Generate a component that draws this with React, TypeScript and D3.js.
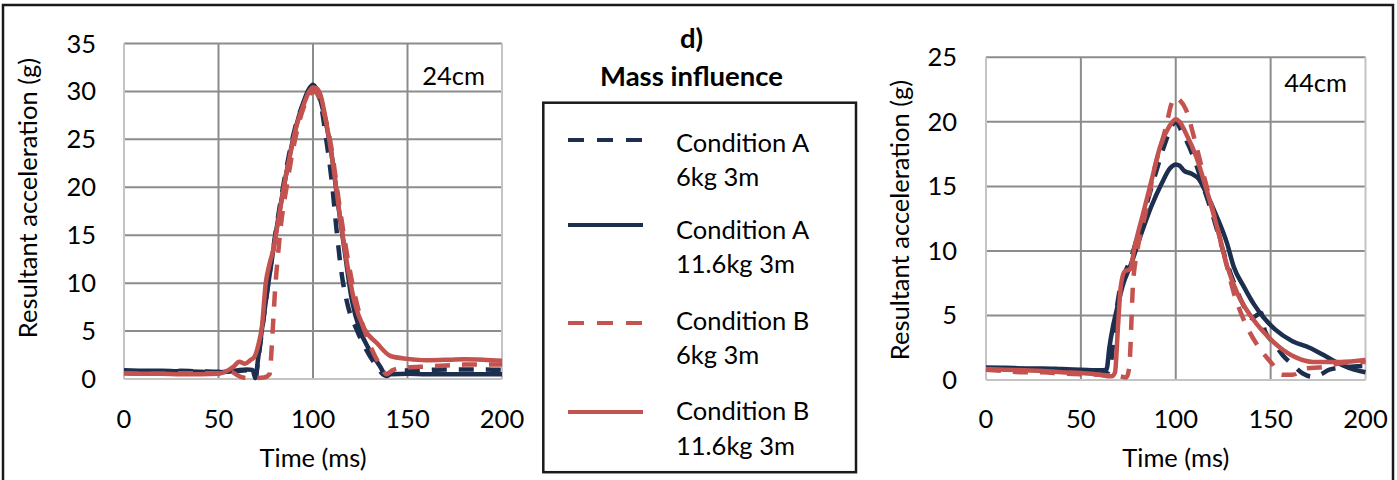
import React from "react";
import * as d3 from "d3";

// ---------- DATA ----------
const xTicks = [0, 50, 100, 150, 200];
const yTicks24 = [0, 5, 10, 15, 20, 25, 30, 35];
const yTicks44 = [0, 5, 10, 15, 20, 25];

const seriesNames = ["Condition A\n6kg 3m", "Condition A\n11.6kg 3m", "Condition B\n6kg 3m", "Condition B\n11.6kg 3m"];

// 24cm panel
const t24_A6 = [0, 10, 20, 30, 40, 50, 55, 60, 65, 68, 69.5, 71, 73, 76, 80, 85, 90, 95, 98, 100, 102, 104, 107, 110, 112.5, 115, 118.5, 123, 128, 133.5, 138, 142, 150, 160, 170, 180, 190, 200];
const v24_A6 = [0.85, 0.8, 0.8, 0.85, 0.8, 0.75, 0.8, 0.85, 0.9, 0.8, 0.1, 2.0, 5.0, 9.5, 15, 21, 25.8, 28.8, 30.0, 30.3, 30.0, 28.8, 25, 20.5, 15.5, 11.2, 7.6, 5.2, 3.1, 1.4, 0.4, 0.8, 0.9, 0.95, 1.0, 1.0, 1.0, 0.95];

const t24_A11 = [0, 10, 20, 30, 40, 50, 55, 60, 65, 68, 69.5, 71, 73, 76, 80, 85, 90, 95, 98, 100, 102, 105, 110, 113, 117, 120.5, 125, 130, 135.5, 139, 141, 150, 160, 170, 180, 190, 200];
const v24_A11 = [0.9, 0.85, 0.85, 0.8, 0.75, 0.7, 0.75, 0.9, 1.0, 0.95, 0.1, 2.2, 5.2, 9.5, 14.8, 20.5, 25.5, 28.9, 30.3, 30.7, 30.2, 28.3, 23.2, 18.6, 13.0, 8.3, 5.0, 3.0, 1.3, 0.3, 0.5, 0.55, 0.5, 0.5, 0.5, 0.5, 0.5];

const t24_B6 = [0, 10, 20, 30, 40, 50, 56, 60, 63, 66, 70, 74, 77, 78.5, 80, 81.5, 83, 86, 90, 95, 98, 100, 102, 105, 110, 113, 117, 121, 125, 130, 135, 139, 142, 145, 150, 160, 170, 180, 190, 200];
const v24_B6 = [0.6, 0.55, 0.55, 0.6, 0.6, 0.6, 0.8, 0.4, 0.15, 0.1, 0.1, 0.15, 0.5, 4.5, 9.5, 13, 16, 20, 24.5, 28.3, 29.6, 30.0, 29.8, 28.3, 23.8, 19.5, 14.2, 9.8, 6.5, 3.6, 1.6, 0.5, 0.9, 1.1, 1.2, 1.3, 1.4, 1.5, 1.5, 1.5];

const t24_B11 = [0, 10, 20, 30, 40, 50, 55, 58, 61, 64, 67, 69, 71, 73, 75, 77, 79, 82, 85, 88, 91, 95, 98, 100, 102, 104, 107, 111, 114.5, 118, 122, 127, 134, 141, 150, 160, 170, 180, 190, 200];
const v24_B11 = [0.6, 0.55, 0.55, 0.5, 0.5, 0.55, 0.9, 1.3, 1.8, 1.6, 2.0, 2.3, 3.5, 5.5, 10, 12, 13.5, 17, 20.5, 23.5, 26.2, 28.6, 30.0, 30.4, 30.3, 29.6, 26.8, 21.8, 16.6, 12.1, 8.0, 5.3, 3.7, 2.4, 2.1, 1.95, 2.0, 2.05, 2.0, 1.9];

// 44cm panel
const t44_A6 = [0, 10, 20, 30, 40, 50, 60, 64, 66, 68, 70, 73, 76.5, 80, 85, 90, 95, 98, 100, 103, 107, 110, 114.5, 120, 125, 130, 135, 140, 145, 147, 152, 156.5, 161.5, 167, 172, 176, 181, 190, 200];
const v44_A6 = [0.95, 0.9, 0.85, 0.8, 0.75, 0.7, 0.6, 0.6, 1.5, 4.5, 6.6, 8.2, 9.5, 11.2, 13.8, 16.3, 18.6, 19.7, 20.0, 19.3, 18.1, 17, 15, 12.5, 10, 7.8, 6.0, 4.8, 5.2, 3.8, 2.8, 1.9, 1.2, 0.5, 0.25, 0.4, 0.8, 1.0, 1.1];

const t44_A11 = [0, 10, 20, 30, 40, 50, 60, 63.5, 65, 67, 69, 72, 76.5, 82, 87, 92.5, 97, 100, 102, 104.5, 108, 112.5, 116, 121.5, 127, 130.5, 136, 141.5, 146, 152.5, 161.5, 170.5, 179.5, 187, 194, 200];
const v44_A11 = [0.95, 0.95, 0.9, 0.9, 0.85, 0.8, 0.75, 0.8, 2.5, 4.2, 5.5, 7.3, 9.0, 11.4, 13.4, 15.2, 16.4, 16.7, 16.6, 16.2, 16.0, 15.5, 14.5, 12.7, 10.6, 8.8, 7.2, 5.8, 4.9, 3.9, 3.0, 2.5, 1.8, 1.2, 0.8, 0.6];

const t44_B6 = [0, 10, 20, 30, 40, 50, 60, 65, 70, 74, 75.5, 77.5, 79.5, 84, 89, 94.5, 98, 100, 102, 105.5, 110, 114.5, 120, 125.3, 130.7, 136, 143.5, 150.5, 156, 161.5, 168.5, 177.5, 187, 200];
const v44_B6 = [0.8, 0.7, 0.6, 0.6, 0.5, 0.45, 0.4, 0.35, 0.3, 0.2, 1.0, 7.5, 9.8, 12.9, 16.5, 19.4, 21.5, 21.9, 21.7, 20.9, 18.6, 16, 12.9, 9.8, 6.7, 4.6, 2.6, 1.3, 0.4, 0.4, 0.9, 1.0, 1.3, 1.4];

const t44_B11 = [0, 10, 20, 30, 40, 50, 60, 64, 66.5, 68, 69.5, 71, 73, 76, 78.3, 82.8, 87.3, 91.8, 96.4, 100, 102, 105.4, 110.8, 116.3, 121.7, 127.1, 132.5, 139.8, 147, 154.2, 163.3, 172.3, 186.8, 200];
const v44_B11 = [0.85, 0.8, 0.75, 0.7, 0.6, 0.55, 0.4, 0.3, 0.3, 0.6, 4.0, 7.2, 8.4, 8.6, 10.3, 12.9, 15.5, 18.1, 19.6, 20.2, 20.0, 19.1, 17.3, 14.7, 11.9, 8.8, 6.7, 4.9, 3.6, 2.6, 1.75, 1.4, 1.4, 1.55];

// ---------- STYLE ----------
const NAVY = "#1d2f4e";
const RED = "#c4524f";
const GRID = "#8c8c8c";
const FRAME = "#c4c4c4";
const FONT = "Lato, 'Open Sans', sans-serif";
const FS = 25.5;
const DASH = "15,12";

const styles = [
  { color: NAVY, dash: true },
  { color: NAVY, dash: false },
  { color: RED, dash: true },
  { color: RED, dash: false },
];

type PanelProps = {
  x0: number; x1: number; yTop: number; yBot: number; yMax: number; yTicks: number[];
  series: [number[], number[]][]; label: string; labelX: number; labelY: number;
  yLabelX: number; yLabelY: number; tickRight: number;
};

function Panel(p: PanelProps) {
  const x = d3.scaleLinear().domain([0, 200]).range([p.x0, p.x1]);
  const y = d3.scaleLinear().domain([0, p.yMax]).range([p.yBot, p.yTop]);
  const line = d3.line<[number, number]>().x(d => x(d[0])).y(d => y(d[1])).curve(d3.curveMonotoneX);
  return (
    <g>
      {p.yTicks.filter(v => v > 0).map(v => (
        <line key={"h" + v} x1={p.x0} x2={p.x1} y1={y(v)} y2={y(v)} stroke={GRID} strokeWidth={2} />
      ))}
      {xTicks.filter(t => t > 0 && t < 200).map(t => (
        <line key={"v" + t} x1={x(t)} x2={x(t)} y1={p.yTop} y2={p.yBot} stroke={GRID} strokeWidth={2} />
      ))}
      <line x1={p.x0} x2={p.x0} y1={p.yTop} y2={p.yBot} stroke={FRAME} strokeWidth={2} />
      <line x1={p.x1} x2={p.x1} y1={p.yTop} y2={p.yBot} stroke={FRAME} strokeWidth={2} />
      <line x1={p.x0} x2={p.x1} y1={p.yBot} y2={p.yBot} stroke={FRAME} strokeWidth={2} />
      {p.series.map((s, i) => {
        const pts = s[0].map((t, k) => [t, s[1][k]] as [number, number]);
        return (
          <path key={i} d={line(pts) || ""} fill="none" stroke={styles[i].color} strokeWidth={4.5}
            strokeDasharray={styles[i].dash ? DASH : undefined} strokeLinejoin="round" />
        );
      })}
      {p.yTicks.map(v => (
        <text key={"yt" + v} x={p.tickRight} y={y(v) + 9} textAnchor="end" fontSize={FS} fill="#000">{v}</text>
      ))}
      {xTicks.map(t => (
        <text key={"xt" + t} x={x(t)} y={428} textAnchor="middle" fontSize={FS} fill="#000">{t}</text>
      ))}
      <text x={(p.x0 + p.x1) / 2} y={467} textAnchor="middle" fontSize={FS} fill="#000">Time (ms)</text>
      <text transform={`translate(${p.yLabelX},${p.yLabelY}) rotate(-90)`} textAnchor="middle" fontSize={FS} fill="#000">
        Resultant acceleration (g)
      </text>
      <text x={p.labelX} y={p.labelY} textAnchor="end" fontSize={FS} fill="#000">{p.label}</text>
    </g>
  );
}

const legendLineY = [140, 225, 323, 412];
const legendText1Y = [151.5, 238.5, 330, 420];
const legendText2Y = [185.5, 273, 364, 455];

export default function App() {
  return (
    <svg width={1397} height={480} style={{ position: "absolute", left: 0, top: 0, background: "#fff" }} fontFamily={FONT}>
      <rect x={0} y={0} width={1397} height={480} fill="#fff" />
      <rect x={3} y={5} width={1390} height={500} fill="none" stroke="#1a1a1a" strokeWidth={2.5} />
      <Panel x0={124} x1={502} yTop={43.5} yBot={379} yMax={35} yTicks={yTicks24}
        series={[[t24_A6, v24_A6], [t24_A11, v24_A11], [t24_B6, v24_B6], [t24_B11, v24_B11]]}
        label="24cm" labelX={485} labelY={85} yLabelX={37} yLabelY={198} tickRight={96} />
      <Panel x0={986} x1={1365.5} yTop={57.3} yBot={380} yMax={25} yTicks={yTicks44}
        series={[[t44_A6, v44_A6], [t44_A11, v44_A11], [t44_B6, v44_B6], [t44_B11, v44_B11]]}
        label="44cm" labelX={1347} labelY={92} yLabelX={909} yLabelY={220} tickRight={957} />
      <text x={691.5} y={47.5} textAnchor="middle" fontSize={27.5} fontWeight="bold" fill="#000">d)</text>
      <text x={691.5} y={86} textAnchor="middle" fontSize={27.5} fontWeight="bold" fill="#000">Mass influence</text>
      <rect x={543.3} y={102.7} width={312.7} height={369.5} fill="none" stroke="#1a1a1a" strokeWidth={2.5} />
      {seriesNames.map((name, i) => {
        const [l1, l2] = name.split("\n");
        return (
          <g key={i}>
            <line x1={568} x2={643} y1={legendLineY[i]} y2={legendLineY[i]} stroke={styles[i].color} strokeWidth={4}
              strokeDasharray={styles[i].dash ? "16,13" : undefined} />
            <text x={676} y={legendText1Y[i]} fontSize={FS} fill="#000">{l1}</text>
            <text x={676} y={legendText2Y[i]} fontSize={FS} fill="#000">{l2}</text>
          </g>
        );
      })}
    </svg>
  );
}
